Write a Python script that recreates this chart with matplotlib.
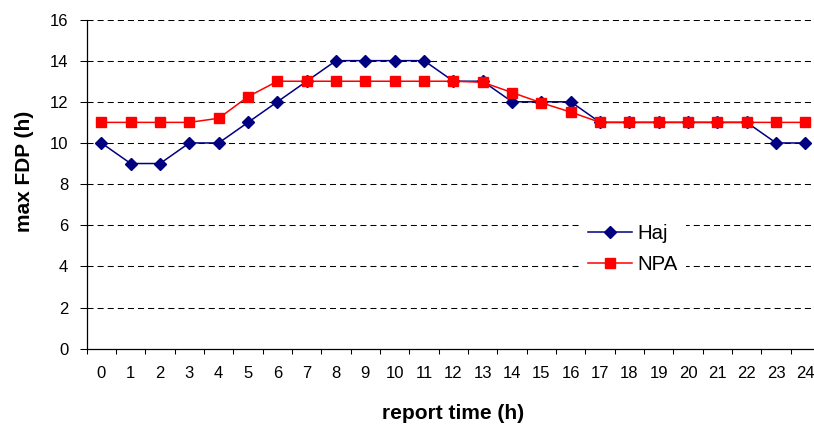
import numpy as np
import matplotlib
matplotlib.use('Agg')
import matplotlib.pyplot as plt

#- Data:

hours = list(range(25))
hour_labels = [str(h) for h in hours]
haj = [10, 9, 9, 10, 10, 11, 12, 13, 14, 14, 14, 14, 13, 13, 12, 12, 12,
       11, 11, 11, 11, 11, 11, 10, 10]
npa = [11, 11, 11, 11, 11.2, 12.25, 13, 13, 13, 13, 13, 13, 13, 12.95,
       12.45, 11.95, 11.5, 11, 11, 11, 11, 11, 11, 11, 11]
y_ticks = [0, 2, 4, 6, 8, 10, 12, 14, 16]

plt.rcParams['font.family'] = ['Liberation Sans', 'DejaVu Sans']

fig = plt.figure(figsize=(8.14, 4.24), dpi=100)
ax = fig.add_axes([0.1065, 0.1776, 0.901, 0.7764])

#- Dashed horizontal gridlines (Excel style):

for v in y_ticks[1:]:
    ax.axhline(v, color='black', lw=0.75, dashes=(5.8, 3.9), zorder=1)

ax.plot(hours, haj, color='#000080', lw=1.1, marker='D', ms=6.5,
        label='Haj', zorder=3)
ax.plot(hours, npa, color='#FF0000', lw=1.1, marker='s', ms=6.5,
        label='NPA', zorder=4)

ax.set_xlim(-0.5, 24.5)
ax.set_ylim(0, 16)

#- Category axis: labels centred, tick marks on the boundaries:

ax.set_xticks(hours)
ax.set_xticklabels(hour_labels)
ax.set_xticks(np.arange(-0.5, 25, 1.0), minor=True)
ax.tick_params(axis='x', which='major', length=0, pad=12.5, labelsize=12)
ax.tick_params(axis='x', which='minor', length=3.4, width=0.75,
               direction='out')
ax.set_yticks(y_ticks)
ax.tick_params(axis='y', length=4.8, width=0.75, direction='out', pad=8.4,
               labelsize=12)

for side in ['top', 'right']:
    ax.spines[side].set_visible(False)
for side in ['left', 'bottom']:
    ax.spines[side].set_linewidth(0.9)

ax.set_xlabel('report time (h)', fontsize=15, fontweight='bold')
ax.xaxis.set_label_coords(0.5, -0.168)
ax.set_ylabel('max FDP (h)', fontsize=15, fontweight='bold')
ax.yaxis.set_label_coords(-0.072, 0.538)

leg = ax.legend(loc='center', bbox_to_anchor=(0.7447, 0.3029), fontsize=14.7,
                frameon=True, fancybox=False, edgecolor='none',
                facecolor='white', framealpha=1, handlelength=2.16,
                handletextpad=0.25, labelspacing=0.62, borderpad=0.4)
leg.set_zorder(5)

plt.savefig('out.png', dpi=100)
